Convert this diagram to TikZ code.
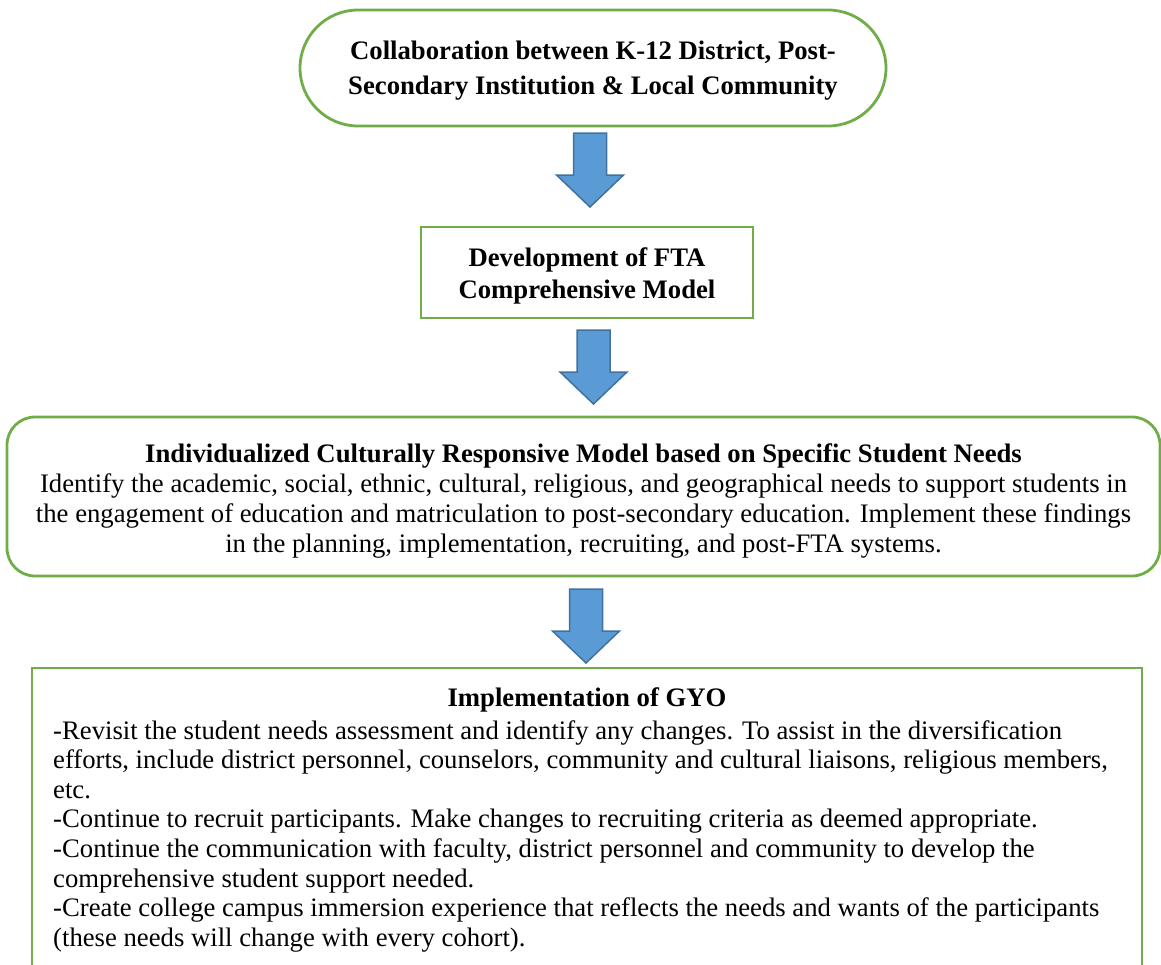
\documentclass[tikz,border=0pt]{standalone}
\usepackage{fontspec}
\setmainfont{Liberation Serif}
\definecolor{framegreen}{HTML}{70AD47}
\definecolor{arrowfill}{HTML}{5B9BD5}
\definecolor{arrowedge}{HTML}{41719C}
\begin{document}
\begin{tikzpicture}[x=1pt,y=-1pt,
  stagebox/.style={draw=framegreen, line width=2.8pt, fill=white, outer sep=0pt,
    inner sep=0pt},
  stagetext/.style={inner sep=0pt, align=center},
  bodyfont/.style={font=\fontsize{26.7}{30}\selectfont},
  boldfont/.style={font=\fontsize{26.7}{35}\selectfont\bfseries},
  flowarrow/.style={fill=arrowfill, draw=arrowedge, line width=1.5pt, line join=miter},
  downarrow/.pic={\draw[flowarrow] (-16.5,0) -- (16.5,0) -- (16.5,42) -- (33.5,42)
    -- (0,74) -- (-33.5,42) -- (-16.5,42) -- cycle;}
]
\useasboundingbox (0,0) rectangle (1161,964);

% stage 1: partnership
\node[stagebox, minimum width=586pt, minimum height=116pt, rounded corners=58pt]
  (collab) at (593,68) {};
\node[stagetext, boldfont] (collabtext) at ([yshift=-3pt]collab.center)
  {Collaboration between K-12 District, Post-\\Secondary Institution \& Local Community};

% stage 2: model development
\node[stagebox, minimum width=332pt, minimum height=91pt]
  (fta) at (587,272.5) {};
\node[stagetext, font=\fontsize{26.7}{32}\selectfont\bfseries] (ftatext)
  at ([yshift=-3pt]fta.center) {Development of FTA\\Comprehensive Model};

% stage 3: culturally responsive model
\node[stagebox, minimum width=1153pt, minimum height=159pt, rounded corners=28pt]
  (model) at (583.5,496.5) {};
\node[stagetext, bodyfont] (modeltext) at ([yshift=-4pt]model.center)
  {\textbf{Individualized Culturally Responsive Model based on Specific Student Needs}\\
   Identify the academic, social, ethnic, cultural, religious, and geographical needs to support students in\\
   the engagement of education and matriculation to post-secondary education. Implement these findings\\
   in the planning, implementation, recruiting, and post-FTA systems.};

% stage 4: grow-your-own implementation (runs past the lower edge)
\node[stagebox, minimum width=1110pt, minimum height=322pt, anchor=north]
  (gyo) at (587,668) {};
\node[inner sep=0pt, font=\fontsize{26.7}{30}\selectfont\bfseries, anchor=center]
  (gyotitle) at ([yshift=-32pt]gyo.north) {Implementation of GYO};
\node[font=\fontsize{26.7}{29.6}\selectfont, align=left, inner sep=0pt, anchor=north west]
  (gyobody) at ([xshift=21pt,yshift=-52pt]gyo.north west)
  {-Revisit the student needs assessment and identify any changes. To assist in the diversification\\
   efforts, include district personnel, counselors, community and cultural liaisons, religious members,\\
   etc.\\
   -Continue to recruit participants. Make changes to recruiting criteria as deemed appropriate.\\
   -Continue the communication with faculty, district personnel and community to develop the\\
   comprehensive student support needed.\\
   -Create college campus immersion experience that reflects the needs and wants of the participants\\
   (these needs will change with every cohort).};

% block arrows between stages
\path (collab.south) ++(-3,7) pic {downarrow};
\path (fta.south) ++(6.5,12) pic {downarrow};
\path (model.south) ++(2.5,13) pic {downarrow};
\end{tikzpicture}
\end{document}
